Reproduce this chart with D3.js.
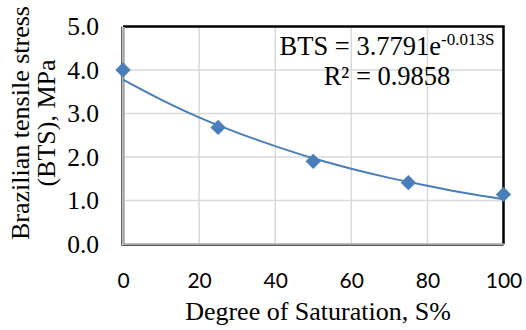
<!DOCTYPE html>
<html>
<head>
<meta charset="utf-8">
<script src="https://cdn.jsdelivr.net/npm/d3@7"></script>
<style>
  body { margin: 0; background: #fff; }
  svg { display: block; }
  .serif { font-family: "Liberation Serif", "Times New Roman", serif; }
</style>
</head>
<body>
<div id="svgContainer"></div>
<script>
// data
var saturation = [0, 25, 50, 75, 100];
var bts = [4.0, 2.68, 1.9, 1.41, 1.14];
// exponential trendline, read at every 10 %
var trendX = [0, 10, 20, 30, 40, 50, 60, 70, 80, 90, 100];
var trendY = [3.78, 3.32, 2.91, 2.56, 2.25, 1.97, 1.73, 1.52, 1.34, 1.17, 1.03];
var xTicks = [0, 20, 40, 60, 80, 100];
var yTicks = [0, 1, 2, 3, 4, 5];

var width = 526, height = 330;
var margin = {top: 26.5, right: 22.5, bottom: 86, left: 123};
var w = width - margin.left - margin.right,
    h = height - margin.top - margin.bottom;
var blue = "#4a7ebb";

var svg = d3.select("#svgContainer")
    .append("svg")
    .attr("width", width)
    .attr("height", height);

var g = svg.append("g")
    .attr("transform", "translate(" + margin.left + "," + margin.top + ")");

var x = d3.scaleLinear().domain([0, 100]).range([0, w]);
var y = d3.scaleLinear().domain([0, 5]).range([h, 0]);

// gridlines
g.append("g").selectAll("line")
    .data(xTicks.slice(1, -1))
    .join("line")
    .attr("x1", d => x(d)).attr("x2", d => x(d))
    .attr("y1", 0).attr("y2", h)
    .style("stroke", "#d9d9d9").style("stroke-width", 1.5);
g.append("g").selectAll("line")
    .data(yTicks.slice(1, -1))
    .join("line")
    .attr("x1", 0).attr("x2", w)
    .attr("y1", d => y(d)).attr("y2", d => y(d))
    .style("stroke", "#d9d9d9").style("stroke-width", 1.5);

// black frame on top and right
g.append("path")
    .attr("d", "M0,0H" + w + "V" + h)
    .style("fill", "none").style("stroke", "#000").style("stroke-width", 2.5);

// axes (gray with dark shadow)
var xAxis = g.append("g")
    .attr("transform", "translate(0," + h + ")")
    .call(d3.axisBottom(x).tickValues(xTicks).tickSize(0).tickPadding(29));
var yAxis = g.append("g")
    .call(d3.axisLeft(y).tickValues(yTicks).tickSize(0).tickPadding(24).tickFormat(d3.format(".1f")));
xAxis.select(".domain").style("stroke", "#a6a6a6").style("stroke-width", 2.5);
yAxis.select(".domain").style("stroke", "#a6a6a6").style("stroke-width", 2.5);
g.append("path")
    .attr("d", "M-1.5,0V" + (h + 1.5) + "H" + w)
    .style("fill", "none").style("stroke", "#404040").style("stroke-width", 0.8);

xAxis.attr("font-family", null).attr("font-size", null);
yAxis.attr("font-family", null).attr("font-size", null);
xAxis.selectAll("text")
    .style("font-family", "Lato, 'Open Sans', sans-serif")
    .style("font-size", "21px").style("fill", "#000");
yAxis.selectAll("text")
    .attr("class", "serif")
    .style("font-size", "25.5px").style("fill", "#000")
    .attr("dy", "0.33em");

// trendline
var line = d3.line()
    .x((d, i) => x(trendX[i]))
    .y(d => y(d))
    .curve(d3.curveMonotoneX);
g.append("path")
    .datum(trendY)
    .attr("d", line)
    .style("fill", "none").style("stroke", blue).style("stroke-width", 2);

// markers
g.selectAll("path.pt")
    .data(bts)
    .join("path")
    .attr("class", "pt")
    .attr("d", d3.symbol().type(d3.symbolDiamond2).size(150))
    .attr("transform", (d, i) => "translate(" + x(saturation[i]) + "," + y(d) + ")")
    .style("fill", blue);

// equation
var eq = svg.append("text")
    .attr("class", "serif")
    .attr("x", 387).attr("y", 55)
    .attr("text-anchor", "middle")
    .style("font-size", "26.5px");
eq.append("tspan").text("BTS = 3.7791e");
eq.append("tspan").attr("dy", -10).style("font-size", "17px").text("-0.013S");
svg.append("text")
    .attr("class", "serif")
    .attr("x", 387).attr("y", 85)
    .attr("text-anchor", "middle")
    .style("font-size", "26.5px")
    .text("R² = 0.9858");

// axis titles
svg.append("text")
    .attr("class", "serif")
    .attr("x", 318).attr("y", 320)
    .attr("text-anchor", "middle")
    .style("font-size", "26px")
    .text("Degree of Saturation, S%");

var yt = svg.append("text")
    .attr("class", "serif")
    .attr("transform", "translate(29,123) rotate(-90)")
    .attr("text-anchor", "middle")
    .style("font-size", "26px");
yt.append("tspan").attr("x", 0).attr("y", 0).text("Brazilian tensile stress");
yt.append("tspan").attr("x", 0).attr("y", 26).text("(BTS), MPa");
</script>
</body>
</html>
